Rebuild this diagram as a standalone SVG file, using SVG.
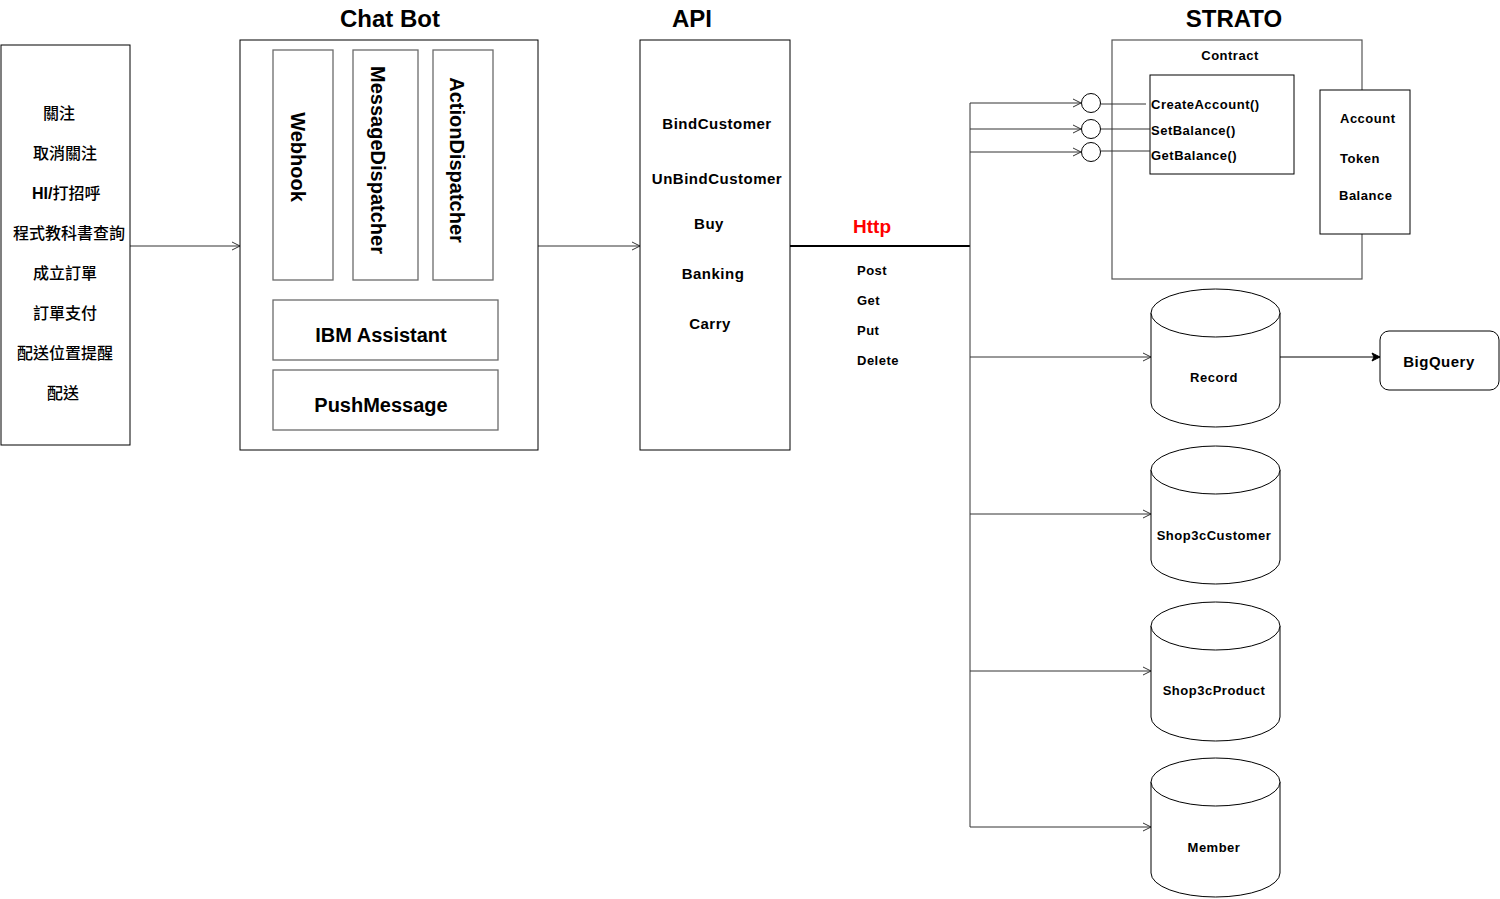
<svg xmlns="http://www.w3.org/2000/svg" width="1500" height="899" viewBox="0 0 1500 899">
  <style>
    text { font-family: "Liberation Sans", Arial, sans-serif; font-weight: bold; fill: #000; dominant-baseline: central; }
    .cjk { font-family: "Liberation Sans", "Noto Sans CJK TC", sans-serif; font-weight: 500; font-size: 16px; }
    .title { font-size: 24px; text-anchor: middle; }
    .box { fill: #fff; stroke: #000; stroke-width: 1; }
    .sub { fill: #fff; stroke: #6b6b6b; stroke-width: 1.3; }
    .big { font-size: 20px; text-anchor: middle; }
    .api { font-size: 15px; letter-spacing: 0.5px; text-anchor: middle; }
    .sm { font-size: 13px; letter-spacing: 0.5px; }
    .mid { text-anchor: middle; }
    .conn { fill: none; stroke: #333; stroke-width: 1; }
    .db { fill: #fff; stroke: #000; stroke-width: 1; }
  </style>
  <defs>
    <marker id="open" markerUnits="userSpaceOnUse" markerWidth="12" markerHeight="12" refX="9" refY="5" orient="auto">
      <path d="M1,1 L9,5 L1,9" fill="none" stroke="#333" stroke-width="1"/>
    </marker>
    <marker id="solid" markerUnits="userSpaceOnUse" markerWidth="12" markerHeight="12" refX="9" refY="5" orient="auto">
      <path d="M1,1 L9,5 L1,9 L3,5 Z" fill="#000" stroke="#000" stroke-width="1"/>
    </marker>
  </defs>

  <rect width="1500" height="899" fill="#fff"/>

  <!-- section titles -->
  <text class="title" x="390" y="18">Chat Bot</text>
  <text class="title" x="692" y="18">API</text>
  <text class="title" x="1234" y="18">STRATO</text>

  <!-- connectors -->
  <g id="connectors">
    <line class="conn" x1="130" y1="246" x2="240" y2="246" marker-end="url(#open)"/>
    <line class="conn" x1="538" y1="246" x2="640" y2="246" marker-end="url(#open)"/>
    <line x1="790" y1="246" x2="970" y2="246" stroke="#000" stroke-width="2"/>
    <line class="conn" x1="970" y1="103" x2="970" y2="827"/>
    <line class="conn" x1="970" y1="103" x2="1081" y2="103" marker-end="url(#open)"/>
    <line class="conn" x1="970" y1="129" x2="1081" y2="129" marker-end="url(#open)"/>
    <line class="conn" x1="970" y1="152" x2="1081" y2="152" marker-end="url(#open)"/>
    <line class="conn" x1="970" y1="357" x2="1151" y2="357" marker-end="url(#open)"/>
    <line class="conn" x1="970" y1="514" x2="1151" y2="514" marker-end="url(#open)"/>
    <line class="conn" x1="970" y1="671" x2="1151" y2="671" marker-end="url(#open)"/>
    <line class="conn" x1="970" y1="827" x2="1151" y2="827" marker-end="url(#open)"/>
    <line x1="1280" y1="357" x2="1380" y2="357" stroke="#000" stroke-width="1" marker-end="url(#solid)"/>
  </g>

  <!-- events -->
  <g id="events">
    <rect class="box" x="1" y="45" width="129" height="400"/>
    <text class="cjk" x="43" y="113">關注</text>
    <text class="cjk" x="33" y="153">取消關注</text>
    <text class="cjk" x="32" y="193"><tspan font-weight="bold">HI/</tspan>打招呼</text>
    <text class="cjk" x="13" y="233">程式教科書查詢</text>
    <text class="cjk" x="33" y="273">成立訂單</text>
    <text class="cjk" x="33" y="313">訂單支付</text>
    <text class="cjk" x="17" y="353">配送位置提醒</text>
    <text class="cjk" x="47" y="393">配送</text>
  </g>

  <!-- chat bot -->
  <g id="chatbot">
    <rect class="box" x="240" y="40" width="298" height="410"/>
    <g id="webhook">
      <rect class="sub" x="273" y="50" width="60" height="230"/>
      <text class="big" transform="translate(298,157) rotate(90)">Webhook</text>
    </g>
    <g id="message-dispatcher">
      <rect class="sub" x="353" y="50" width="65" height="230"/>
      <text class="big" transform="translate(378,160) rotate(90)">MessageDispatcher</text>
    </g>
    <g id="action-dispatcher">
      <rect class="sub" x="433" y="50" width="60" height="230"/>
      <text class="big" transform="translate(457,160) rotate(90)">ActionDispatcher</text>
    </g>
    <g id="ibm-assistant">
      <rect class="sub" x="273" y="300" width="225" height="60"/>
      <text class="big" x="381" y="335">IBM Assistant</text>
    </g>
    <g id="push-message">
      <rect class="sub" x="273" y="370" width="225" height="60"/>
      <text class="big" x="381" y="405">PushMessage</text>
    </g>
  </g>

  <!-- api -->
  <g id="api">
    <rect class="box" x="640" y="40" width="150" height="410"/>
    <text class="api" x="717" y="123">BindCustomer</text>
    <text class="api" x="717" y="178">UnBindCustomer</text>
    <text class="api" x="709" y="223">Buy</text>
    <text class="api" x="713" y="273">Banking</text>
    <text class="api" x="710" y="323">Carry</text>
  </g>

  <!-- http label -->
  <g id="http">
    <text x="872" y="226" font-size="19" style="fill:#f00" text-anchor="middle">Http</text>
    <text class="sm" x="857" y="270">Post</text>
    <text class="sm" x="857" y="300">Get</text>
    <text class="sm" x="857" y="330">Put</text>
    <text class="sm" x="857" y="360">Delete</text>
  </g>

  <!-- contract -->
  <g id="contract">
    <rect x="1112" y="40" width="250" height="239" fill="#fff" stroke="#555" stroke-width="1.2"/>
    <text class="sm mid" x="1230" y="55">Contract</text>
    <rect class="box" x="1150" y="75" width="144" height="99"/>
    <line class="conn" x1="1101" y1="104" x2="1146" y2="104"/>
    <line class="conn" x1="1101" y1="129" x2="1150" y2="129"/>
    <line class="conn" x1="1101" y1="151" x2="1150" y2="151"/>
    <circle cx="1091" cy="103" r="9.5" fill="#fff" stroke="#000"/>
    <circle cx="1091" cy="129" r="9.5" fill="#fff" stroke="#000"/>
    <circle cx="1091" cy="152" r="9.5" fill="#fff" stroke="#000"/>
    <text class="sm" x="1151" y="104">CreateAccount()</text>
    <text class="sm" x="1151" y="130">SetBalance()</text>
    <text class="sm" x="1151" y="155">GetBalance()</text>
  </g>

  <!-- contract state -->
  <g id="state">
    <rect class="box" x="1320" y="90" width="90" height="144"/>
    <text class="sm" x="1340" y="118">Account</text>
    <text class="sm" x="1340" y="158">Token</text>
    <text class="sm" x="1339" y="195">Balance</text>
  </g>

  <!-- databases -->
  <g id="record">
    <path class="db" d="M1151,313 L1151,403 A64.5,24 0 0 0 1280,403 L1280,313"/>
    <ellipse class="db" cx="1215.5" cy="313" rx="64.5" ry="24"/>
    <text class="sm mid" x="1214" y="377">Record</text>
  </g>
  <g id="shop3c-customer">
    <path class="db" d="M1151,470 L1151,560 A64.5,24 0 0 0 1280,560 L1280,470"/>
    <ellipse class="db" cx="1215.5" cy="470" rx="64.5" ry="24"/>
    <text class="sm mid" x="1214" y="535">Shop3cCustomer</text>
  </g>
  <g id="shop3c-product">
    <path class="db" d="M1151,626 L1151,717 A64.5,24 0 0 0 1280,717 L1280,626"/>
    <ellipse class="db" cx="1215.5" cy="626" rx="64.5" ry="24"/>
    <text class="sm mid" x="1214" y="690">Shop3cProduct</text>
  </g>
  <g id="member">
    <path class="db" d="M1151,782 L1151,873 A64.5,24 0 0 0 1280,873 L1280,782"/>
    <ellipse class="db" cx="1215.5" cy="782" rx="64.5" ry="24"/>
    <text class="sm mid" x="1214" y="847">Member</text>
  </g>

  <!-- bigquery -->
  <g id="bigquery">
    <rect class="box" x="1380" y="331" width="119" height="59" rx="9" ry="9"/>
    <text x="1439" y="361" font-size="15" letter-spacing="0.5" text-anchor="middle">BigQuery</text>
  </g>
</svg>
